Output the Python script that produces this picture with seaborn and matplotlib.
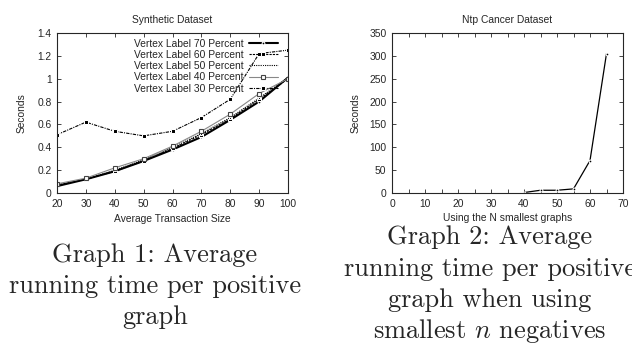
import matplotlib
matplotlib.use('Agg')
import matplotlib.pyplot as plt
import seaborn as sns
import pandas as pd

# Synthetic dataset: seconds per positive graph vs average transaction size
sizes = [20, 30, 40, 50, 60, 70, 80, 90, 100]
label_70 = [0.06, 0.12, 0.19, 0.28, 0.38, 0.49, 0.64, 0.80, 1.01]
label_60 = [0.07, 0.12, 0.19, 0.28, 0.39, 0.51, 0.65, 0.82, 1.00]
label_50 = [0.07, 0.12, 0.20, 0.29, 0.40, 0.52, 0.66, 0.83, 1.01]
label_40 = [0.08, 0.13, 0.22, 0.30, 0.41, 0.54, 0.69, 0.87, 1.00]
label_30 = [0.51, 0.62, 0.54, 0.50, 0.54, 0.66, 0.82, 1.22, 1.25]

# Ntp cancer dataset: seconds vs number of smallest graphs used
n_graphs = [40, 45, 50, 55, 60, 65]
ntp_seconds = [1, 6, 6, 9, 71, 305]

sns.set_style('ticks')
plt.rcParams['font.family'] = ['Liberation Sans', 'DejaVu Sans']
plt.rcParams['mathtext.fontset'] = 'cm'

FS = 7.4

fig = plt.figure(figsize=(6.32, 3.44), dpi=100)
ax1 = fig.add_axes([57 / 632, 1 - 193 / 344, 231 / 632, 160 / 344])
ax2 = fig.add_axes([392 / 632, 1 - 193 / 344, 231 / 632, 160 / 344])

series = [
    ('Vertex Label 70 Percent', label_70, dict(color='black', lw=1.5, ls='-', marker='o', ms=2)),
    ('Vertex Label 60 Percent', label_60, dict(color='black', lw=0.8, ls=(0, (2, 1)), marker='s', ms=2.5)),
    ('Vertex Label 50 Percent', label_50, dict(color='black', lw=0.8, ls=(0, (1, 1)), marker='s', ms=2)),
    ('Vertex Label 40 Percent', label_40, dict(color='#888888', lw=0.8, ls='-', marker='s', ms=3.5,
                                               mfc='white', mec='#444444', mew=0.8)),
    ('Vertex Label 30 Percent', label_30, dict(color='black', lw=0.8, ls=(0, (3, 1, 1, 1)), marker='s', ms=2.5)),
]
for name, vals, kw in series:
    df = pd.DataFrame({'size': sizes, 'sec': vals})
    sns.lineplot(data=df, x='size', y='sec', ax=ax1, label=name, **kw)

ax1.set_xlim(20, 100)
ax1.set_ylim(0, 1.4)
ax1.set_xticks(sizes)
ax1.set_yticks([0, 0.2, 0.4, 0.6, 0.8, 1, 1.2, 1.4])
ax1.set_yticklabels(['0', '0.2', '0.4', '0.6', '0.8', '1', '1.2', '1.4'])
ax1.set_title('Synthetic Dataset', fontsize=FS, pad=7)
ax1.set_xlabel('Average Transaction Size', fontsize=FS, labelpad=4)
ax1.set_ylabel('Seconds', fontsize=FS, labelpad=8)
ax1.legend(loc='upper right', bbox_to_anchor=(0.955, 0.965), frameon=False,
           markerfirst=False, fontsize=FS, handlelength=2.8, handletextpad=0.5,
           labelspacing=0.12, borderaxespad=0, borderpad=0)

df2 = pd.DataFrame({'n': n_graphs, 'sec': ntp_seconds})
sns.lineplot(data=df2, x='n', y='sec', ax=ax2, color='black', lw=0.9, marker='o', ms=2)
ax2.set_xlim(0, 70)
ax2.set_ylim(0, 350)
ax2.set_xticks(range(0, 71, 10))
ax2.set_xticks(range(5, 70, 10), minor=True)
ax2.set_yticks(range(0, 351, 50))
ax2.set_title('Ntp Cancer Dataset', fontsize=FS, pad=7)
ax2.set_xlabel('Using the N smallest graphs', fontsize=FS, labelpad=3)
ax2.set_ylabel('Seconds', fontsize=FS, labelpad=6)

for ax in (ax1, ax2):
    ax.tick_params(direction='in', top=True, right=True, labelsize=FS, length=3, width=0.6, pad=4)
    ax.tick_params(which='minor', direction='in', top=True, right=True, length=3, width=0.6)
    for s in ax.spines.values():
        s.set_linewidth(0.8)
        s.set_visible(True)

cap = dict(family='cmr10', fontsize=19, ha='center', va='baseline')
fig.text(155 / 632, 1 - 262 / 344, 'Graph 1: Average', **cap)
fig.text(155 / 632, 1 - 293 / 344, 'running time per positive', **cap)
fig.text(155 / 632, 1 - 324 / 344, 'graph', **cap)
fig.text(490 / 632, 1 - 244 / 344, 'Graph 2: Average', **cap)
fig.text(490 / 632, 1 - 276 / 344, 'running time per positive', **cap)
fig.text(490 / 632, 1 - 307 / 344, 'graph when using', **cap)
fig.text(490 / 632, 1 - 338 / 344, r'smallest $n$ negatives', **cap)

fig.savefig('out.png', dpi=100)
